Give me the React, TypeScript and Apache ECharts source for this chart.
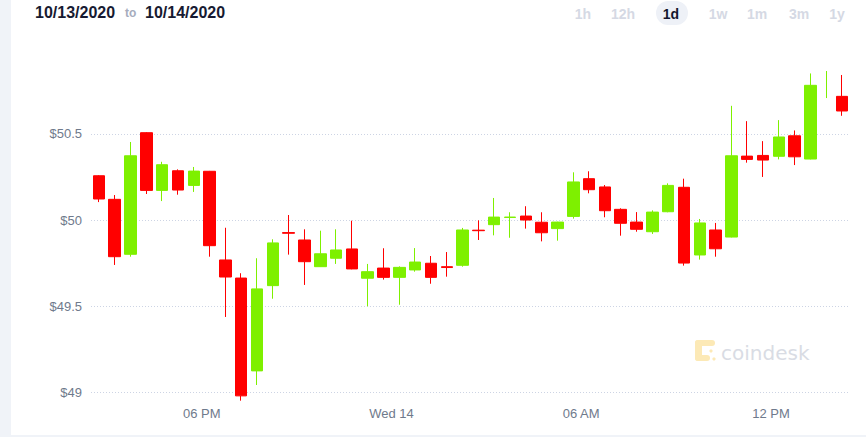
import React, { useEffect, useRef } from "react";
import * as echarts from "echarts";

// Half-hour candle start times (category axis)
const times = [
  "14:30", "15:00", "15:30", "16:00", "16:30", "17:00", "17:30", "18:00",
  "18:30", "19:00", "19:30", "20:00", "20:30", "21:00", "21:30", "22:00",
  "22:30", "23:00", "23:30", "00:00", "00:30", "01:00", "01:30", "02:00",
  "02:30", "03:00", "03:30", "04:00", "04:30", "05:00", "05:30", "06:00",
  "06:30", "07:00", "07:30", "08:00", "08:30", "09:00", "09:30", "10:00",
  "10:30", "11:00", "11:30", "12:00", "12:30", "13:00", "13:30", "14:00",
];

// Candle boundaries (one more than candles) used for the visible tick labels
const boundaries = [...times, "14:30"];

const tickLabels: Record<string, string> = {
  "18:00": "06 PM",
  "00:00": "Wed 14",
  "06:00": "06 AM",
  "12:00": "12 PM",
};

const openVals = [
  50.257, 50.12, 49.801, 50.507, 50.172, 50.286, 50.201, 50.283, 49.768, 49.663, 49.124, 49.619,
  49.927, 49.884, 49.729, 49.778, 49.832, 49.662, 49.721, 49.667, 49.71, 49.749, 49.729, 49.737,
  49.941, 49.973, 50.015, 50.023, 49.987, 49.95, 50.021, 50.24, 50.192, 50.062, 49.988, 49.932,
  50.048, 50.19, 49.797, 49.942, 49.901, 50.371, 50.375, 50.37, 50.489, 50.354, 50.781, 50.718,
];
const closeVals = [
  50.122, 49.787, 50.373, 50.172, 50.321, 50.174, 50.284, 49.851, 49.669, 48.979, 49.6, 49.867,
  49.923, 49.758, 49.804, 49.826, 49.716, 49.7, 49.667, 49.725, 49.756, 49.667, 49.724, 49.942,
  49.938, 50.017, 50.017, 50.0, 49.926, 49.988, 50.221, 50.176, 50.054, 49.981, 49.946, 50.046,
  50.201, 49.75, 49.983, 49.833, 50.373, 50.352, 50.348, 50.482, 50.367, 50.782, 50.783, 50.633,
];
const lowVals = [
  50.104, 49.739, 49.787, 50.151, 50.11, 50.147, 50.163, 49.787, 49.437, 48.951, 49.042, 49.543,
  49.799, 49.623, 49.727, 49.745, 49.714, 49.499, 49.654, 49.508, 49.7, 49.63, 49.671, 49.729,
  49.884, 49.911, 49.897, 49.95, 49.876, 49.88, 50.008, 50.155, 50.016, 49.909, 49.932, 49.919,
  50.045, 49.735, 49.77, 49.787, 49.899, 50.333, 50.25, 50.352, 50.319, 50.352, 50.708, 50.605,
];
const highVals = [
  50.26, 50.145, 50.453, 50.51, 50.338, 50.294, 50.308, 50.285, 49.955, 49.691, 49.778, 49.888,
  50.029, 49.946, 49.938, 49.946, 49.996, 49.745, 49.836, 49.731, 49.837, 49.791, 49.814, 49.954,
  49.998, 50.128, 50.045, 50.08, 50.045, 49.99, 50.277, 50.283, 50.203, 50.068, 50.046, 50.056,
  50.213, 50.24, 50.006, 49.983, 50.663, 50.574, 50.458, 50.58, 50.52, 50.851, 50.865, 50.842,
];

// Candle drawn in the reference as a bare wick (no visible body)
const wickOnlyIndex = 46;

const rangeButtons = ["1h", "12h", "1d", "1w", "1m", "3m", "1y"];
const buttonCenters = [583, 623, 671, 718, 757, 799, 837];

const UP = "#7ef000";
const DOWN = "#ff0000";
const FONT = "'Liberation Sans', Arial, sans-serif";

export default function App() {
  const ref = useRef<HTMLDivElement>(null);

  useEffect(() => {
    if (!ref.current) return;
    const chart = echarts.init(ref.current, undefined, { renderer: "svg" });

    const ohlc = times.map((_, i) => {
      const v = [openVals[i], closeVals[i], lowVals[i], highVals[i]];
      return i === wickOnlyIndex ? { value: v, itemStyle: { opacity: 0 } } : v;
    });
    const wickOnly = times.map((_, i) =>
      i === wickOnlyIndex ? [openVals[i], closeVals[i], lowVals[i], highVals[i]] : "-"
    );

    const buttonGraphics: any[] = rangeButtons.map((b, i) => ({
      type: "text",
      x: buttonCenters[i],
      y: 14,
      style: {
        text: b,
        align: "center",
        verticalAlign: "middle",
        font: `bold 14px ${FONT}`,
        fill: b === "1d" ? "#14172e" : "#d5d9e4",
      },
      z: 10,
    }));

    chart.setOption({
      animation: false,
      backgroundColor: "#ffffff",
      grid: {
        left: 91,
        right: 16,
        top: 65,
        bottom: 32.7,
        containLabel: false,
        outerBoundsMode: "none",
      },
      xAxis: [
        {
          type: "category",
          data: times,
          boundaryGap: true,
          axisLine: { show: false },
          axisTick: { show: false },
          axisLabel: { show: false },
          splitLine: { show: false },
        },
        {
          type: "category",
          data: boundaries,
          boundaryGap: false,
          position: "bottom",
          axisLine: { show: false },
          axisTick: { show: false },
          splitLine: { show: false },
          axisLabel: {
            interval: 0,
            margin: 3,
            color: "#6f7a8c",
            fontSize: 13,
            fontFamily: FONT,
            formatter: (v: string) => tickLabels[v] || "",
          },
        },
      ],
      yAxis: {
        type: "value",
        min: 48.93,
        max: 50.9,
        splitNumber: 4,
        axisLine: { show: false },
        axisTick: { show: false },
        axisLabel: {
          margin: 9,
          color: "#6f7a8c",
          fontSize: 13,
          fontFamily: FONT,
          showMinLabel: false,
          showMaxLabel: false,
          formatter: (v: number) => "$" + v,
        },
        splitLine: {
          show: true,
          showMinLine: false,
          showMaxLine: false,
          lineStyle: { color: "#cdd4e4", type: [1, 2], width: 1 },
        },
      },
      series: [
        {
          type: "candlestick",
          xAxisIndex: 0,
          yAxisIndex: 0,
          data: ohlc,
          barWidth: 12,
          itemStyle: {
            color: UP,
            color0: DOWN,
            borderColor: UP,
            borderColor0: DOWN,
            borderWidth: 1,
          },
        },
        {
          type: "candlestick",
          xAxisIndex: 0,
          yAxisIndex: 0,
          data: wickOnly,
          barWidth: 1,
          itemStyle: {
            color: UP,
            color0: DOWN,
            borderColor: UP,
            borderColor0: DOWN,
            borderWidth: 1,
          },
        },
      ],
      graphic: [
        { type: "rect", shape: { x: 0, y: 0, width: 11, height: 437 }, style: { fill: "#f0f3f8" }, z: 10 },
        { type: "rect", shape: { x: 11, y: 435, width: 855, height: 2 }, style: { fill: "#f0f3f8" }, z: 10 },
        {
          type: "text",
          x: 35,
          y: 12,
          style: { text: "10/13/2020", font: `bold 16px ${FONT}`, fill: "#171a31", verticalAlign: "middle" },
          z: 10,
        },
        {
          type: "text",
          x: 125,
          y: 13,
          style: { text: "to", font: `bold 12px ${FONT}`, fill: "#a6acbd", verticalAlign: "middle" },
          z: 10,
        },
        {
          type: "text",
          x: 145,
          y: 12,
          style: { text: "10/14/2020", font: `bold 16px ${FONT}`, fill: "#171a31", verticalAlign: "middle" },
          z: 10,
        },
        {
          type: "rect",
          shape: { x: 656, y: 1, width: 32, height: 24, r: 12 },
          style: { fill: "#eef1f7" },
          z: 9,
        },
        ...buttonGraphics,
        // coindesk watermark
        { type: "rect", shape: { x: 695, y: 340, width: 20, height: 6, r: 3 }, style: { fill: "#fce9b6" }, z: 1 },
        { type: "rect", shape: { x: 695, y: 340, width: 7, height: 21, r: 3 }, style: { fill: "#fce9b6" }, z: 1 },
        { type: "rect", shape: { x: 695, y: 355, width: 15, height: 6, r: 3 }, style: { fill: "#fce9b6" }, z: 1 },
        { type: "circle", shape: { cx: 711, cy: 351, r: 1.6 }, style: { fill: "#fce9b6" }, z: 1 },
        { type: "circle", shape: { cx: 714, cy: 359, r: 1.6 }, style: { fill: "#fce9b6" }, z: 1 },
        {
          type: "text",
          x: 721,
          y: 353,
          style: {
            text: "coindesk",
            font: "20px 'DejaVu Sans', sans-serif",
            fill: "#d9dce4",
            verticalAlign: "middle",
          },
          z: 1,
        },
      ],
    });

    return () => chart.dispose();
  }, []);

  return (
    <div
      ref={ref}
      style={{ position: "fixed", left: 0, top: 0, width: 866, height: 437, background: "#fff" }}
    />
  );
}
